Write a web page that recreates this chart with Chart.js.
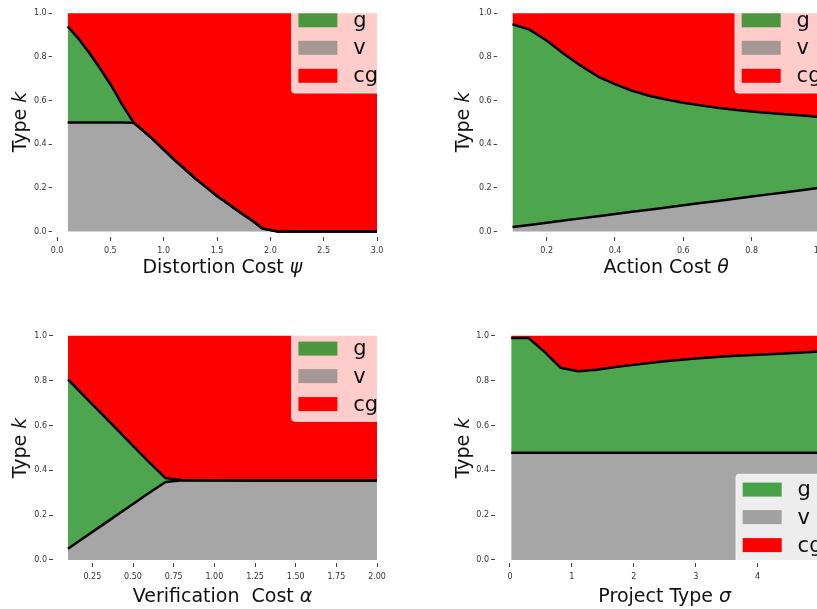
<!DOCTYPE html>
<html>
<head>
<meta charset="utf-8">
<script src="https://cdn.jsdelivr.net/npm/chart.js@4.4.0/dist/chart.umd.min.js"></script>
<style>
  html, body { margin: 0; padding: 0; width: 817px; height: 609px; overflow: hidden; background: #fff; }
  canvas { position: absolute; }
</style>
</head>
<body>
<canvas id="psiChart"></canvas>
<canvas id="thetaChart"></canvas>
<canvas id="alphaChart"></canvas>
<canvas id="sigmaChart"></canvas>
<script>
// --- data ---
const legendLabels = ['g', 'v', 'cg'];
const typeTicks = [0, 0.2, 0.4, 0.6, 0.8, 1.0];
const typeTickLabels = ['0.0', '0.2', '0.4', '0.6', '0.8', '1.0'];

// distortion cost psi
const psiX = [0.1, 0.2, 0.3, 0.4, 0.5, 0.55, 0.6, 0.72, 0.8, 0.9, 1.0, 1.1, 1.2, 1.3, 1.4, 1.5, 1.6, 1.7, 1.8, 1.93, 2.07, 2.5, 3.0];
const psiV = [0.5, 0.5, 0.5, 0.5, 0.5, 0.5, 0.5, 0.498, 0.465, 0.422, 0.375, 0.328, 0.285, 0.241, 0.202, 0.163, 0.128, 0.093, 0.06, 0.013, 0, 0, 0];
const psiG = [0.94, 0.885, 0.82, 0.75, 0.675, 0.635, 0.59, 0.498, 0.465, 0.422, 0.375, 0.328, 0.285, 0.241, 0.202, 0.163, 0.128, 0.093, 0.06, 0.013, 0, 0, 0];
const psiTicks = [0, 0.5, 1.0, 1.5, 2.0, 2.5, 3.0];
const psiTickLabels = ['0.0', '0.5', '1.0', '1.5', '2.0', '2.5', '3.0'];

// action cost theta
const thetaX = [0.1, 0.15, 0.2, 0.25, 0.3, 0.35, 0.4, 0.45, 0.5, 0.55, 0.6, 0.65, 0.7, 0.75, 0.8, 0.85, 0.9, 0.95, 1.0];
const thetaV = [0.02, 0.03, 0.04, 0.05, 0.06, 0.07, 0.08, 0.09, 0.10, 0.11, 0.12, 0.13, 0.14, 0.15, 0.16, 0.17, 0.18, 0.19, 0.20];
const thetaG = [0.95, 0.925, 0.875, 0.815, 0.76, 0.71, 0.675, 0.645, 0.622, 0.605, 0.59, 0.578, 0.567, 0.558, 0.55, 0.543, 0.537, 0.531, 0.525];
const thetaTicks = [0.2, 0.4, 0.6, 0.8, 1.0];
const thetaTickLabels = ['0.2', '0.4', '0.6', '0.8', '1.0'];

// verification cost alpha
const alphaX = [0.1, 0.2, 0.3, 0.4, 0.5, 0.6, 0.7, 0.8, 1.0, 1.25, 1.5, 1.75, 2.0];
const alphaV = [0.05, 0.1, 0.15, 0.2, 0.25, 0.3, 0.348, 0.355, 0.355, 0.355, 0.355, 0.355, 0.355];
const alphaG = [0.805, 0.731, 0.657, 0.583, 0.509, 0.435, 0.365, 0.357, 0.355, 0.355, 0.355, 0.355, 0.355];
const alphaTicks = [0.25, 0.5, 0.75, 1.0, 1.25, 1.5, 1.75, 2.0];
const alphaTickLabels = ['0.25', '0.50', '0.75', '1.00', '1.25', '1.50', '1.75', '2.00'];

// project type sigma
const sigmaX = [0.02, 0.3, 0.55, 0.82, 1.1, 1.4, 1.7, 2.0, 2.5, 3.0, 3.5, 4.0, 4.5, 5.0];
const sigmaV = [0.478, 0.478, 0.478, 0.478, 0.478, 0.478, 0.478, 0.478, 0.478, 0.478, 0.478, 0.478, 0.478, 0.478];
const sigmaG = [0.99, 0.99, 0.93, 0.857, 0.842, 0.848, 0.86, 0.87, 0.886, 0.898, 0.908, 0.915, 0.922, 0.93];
const sigmaTicks = [0, 1, 2, 3, 4, 5];
const sigmaTickLabels = ['0', '1', '2', '3', '4', '5'];

Chart.defaults.font.family = '"DejaVu Sans", sans-serif';
Chart.defaults.color = '#333';

const FILL_V = '#a6a6a6', FILL_G = '#4da64d', FILL_CG = '#ff0000';
const PATCHES = ['rgba(0,128,0,0.7)', 'rgba(128,128,128,0.7)', '#ff0000'];
const FONT = '"DejaVu Sans", sans-serif';

function pts(xs, ys) { return xs.map((x, i) => ({ x: x, y: ys[i] })); }

function rrect(ctx, x, y, w, h, r) {
  ctx.beginPath();
  ctx.moveTo(x + r, y);
  ctx.arcTo(x + w, y, x + w, y + h, r);
  ctx.arcTo(x + w, y + h, x, y + h, r);
  ctx.arcTo(x, y + h, x, y, r);
  ctx.arcTo(x, y, x + w, y, r);
  ctx.closePath();
}

// text with an italic math symbol at the end, centred on (cx, cy)
function drawRich(ctx, parts, cx, cy) {
  let total = 0;
  parts.forEach(p => { ctx.font = (p.it ? 'italic ' : '') + '19px ' + FONT; total += ctx.measureText(p.t).width; });
  let x = cx - total / 2;
  parts.forEach(p => {
    ctx.font = (p.it ? 'italic ' : '') + '19px ' + FONT;
    ctx.fillText(p.t, x, cy);
    x += ctx.measureText(p.t).width;
  });
}

const decor = {
  id: 'decor',
  afterDraw(chart, args, o) {
    const ctx = chart.ctx, a = chart.chartArea;
    ctx.save();
    ctx.fillStyle = '#111';
    ctx.textAlign = 'left';
    ctx.textBaseline = 'middle';
    drawRich(ctx, o.xTitle, (a.left + a.right) / 2, o.xTitleY);
    ctx.save();
    ctx.translate(o.yTitleX, o.yTitleY);
    ctx.rotate(-Math.PI / 2);
    drawRich(ctx, o.yTitle, 0, 0);
    ctx.restore();

    // legend box
    const lx = o.legendX, ly = o.legendY;
    rrect(ctx, lx, ly, 90, 88, 3);
    ctx.fillStyle = 'rgba(255,255,255,0.8)';
    ctx.fill();
    ctx.strokeStyle = 'rgba(255,255,255,0.8)';
    ctx.lineWidth = 1;
    ctx.stroke();
    const rows = [15.3, 42.8, 70.8];
    ctx.font = '21px ' + FONT;
    legendLabels.forEach((lab, i) => {
      ctx.fillStyle = PATCHES[i];
      ctx.fillRect(lx + 6.7, ly + rows[i] - 7, 39, 14);
      ctx.fillStyle = '#111';
      ctx.fillText(lab, lx + 61.6, ly + rows[i] + 1);
    });
    ctx.restore();
  }
};

function makeChart(id, p) {
  const cv = document.getElementById(id);
  cv.width = p.w;
  cv.height = p.h;
  cv.style.left = p.left + 'px';
  cv.style.top = p.top + 'px';
  const line = { borderColor: '#000', borderWidth: 2.5 };
  return new Chart(cv, {
    type: 'line',
    data: {
      datasets: [
        Object.assign({ label: 'v', data: pts(p.x, p.v), fill: 'origin', backgroundColor: FILL_V }, line),
        Object.assign({ label: 'g', data: pts(p.x, p.g), fill: '-1', backgroundColor: FILL_G }, line),
        { label: 'cg', data: pts(p.x, p.g), fill: { value: 1 }, backgroundColor: FILL_CG, borderWidth: 0 }
      ]
    },
    options: {
      responsive: false,
      animation: false,
      events: [],
      layout: { padding: { left: 0, right: p.padR, top: p.padT, bottom: 0 } },
      elements: { point: { radius: 0 }, line: { tension: 0, borderJoinStyle: 'round' } },
      plugins: {
        legend: { display: false },
        tooltip: { enabled: false },
        filler: { drawTime: 'beforeDatasetsDraw' },
        decor: p.decor
      },
      scales: {
        x: {
          type: 'linear', min: p.xMin, max: p.xMax,
          afterFit: s => { s.height = p.xH; },
          afterBuildTicks: s => { s.ticks = p.xTicks.map(v => ({ value: v })); },
          ticks: { font: { size: 8 }, padding: 5, maxRotation: 0, autoSkip: false, callback: (v, i) => p.xTickLabels[i] },
          grid: { drawOnChartArea: false, tickLength: 4, color: '#444' },
          border: { display: false }
        },
        y: {
          min: p.yMin, max: p.yMax,
          afterFit: s => { s.width = p.yW; },
          afterBuildTicks: s => { s.ticks = typeTicks.map(v => ({ value: v })); },
          ticks: { font: { size: 8 }, padding: 2, autoSkip: false, callback: (v, i) => typeTickLabels[i] },
          grid: { drawOnChartArea: false, tickLength: 3.5, color: '#444' },
          border: { display: false }
        }
      }
    },
    plugins: [decor]
  });
}

const typeTitle = [{ t: 'Type ', it: false }, { t: 'k', it: true }];

makeChart('psiChart', {
  left: 0, top: 0, w: 410, h: 300,
  x: psiX, v: psiV, g: psiG,
  xMin: -0.045, xMax: 3.145, xTicks: psiTicks, xTickLabels: psiTickLabels,
  yMin: -0.0254, yMax: 1.0298,
  padR: 17.5, padT: 0, yW: 52.2, xH: 63,
  decor: { xTitle: [{ t: 'Distortion Cost ', it: false }, { t: 'ψ', it: true }], xTitleY: 268,
           yTitle: typeTitle, yTitleX: 21, yTitleY: 122, legendX: 291.7, legendY: 5 }
});

makeChart('thetaChart', {
  left: 410, top: 0, w: 430, h: 300,
  x: thetaX, v: thetaV, g: thetaG,
  xMin: 0.055, xMax: 1.045, xTicks: thetaTicks, xTickLabels: thetaTickLabels,
  yMin: -0.0254, yMax: 1.0298,
  padR: 4.6, padT: 0, yW: 87.1, xH: 63,
  decor: { xTitle: [{ t: 'Action Cost ', it: false }, { t: 'θ', it: true }], xTitleY: 268,
           yTitle: typeTitle, yTitleX: 54, yTitleY: 122, legendX: 325, legendY: 5 }
});

makeChart('alphaChart', {
  left: 0, top: 310, w: 410, h: 299,
  x: alphaX, v: alphaV, g: alphaG,
  xMin: 0.005, xMax: 2.095, xTicks: alphaTicks, xTickLabels: alphaTickLabels,
  yMin: -0.0134, yMax: 1.05,
  padR: 17.5, padT: 14.5, yW: 52.5, xH: 46,
  decor: { xTitle: [{ t: 'Verification  Cost ', it: false }, { t: 'α', it: true }], xTitleY: 287,
           yTitle: typeTitle, yTitleX: 21, yTitleY: 138, legendX: 291.7, legendY: 23.3 }
});

makeChart('sigmaChart', {
  left: 410, top: 310, w: 430, h: 299,
  x: sigmaX, v: sigmaV, g: sigmaG,
  xMin: -0.25, xMax: 5.25, xTicks: sigmaTicks, xTickLabels: sigmaTickLabels,
  yMin: -0.0134, yMax: 1.05,
  padR: 5, padT: 14.5, yW: 84.5, xH: 46,
  decor: { xTitle: [{ t: 'Project Type ', it: false }, { t: 'σ', it: true }], xTitleY: 287,
           yTitle: typeTitle, yTitleX: 54, yTitleY: 138, legendX: 326, legendY: 164.3 }
});
</script>
</body>
</html>
